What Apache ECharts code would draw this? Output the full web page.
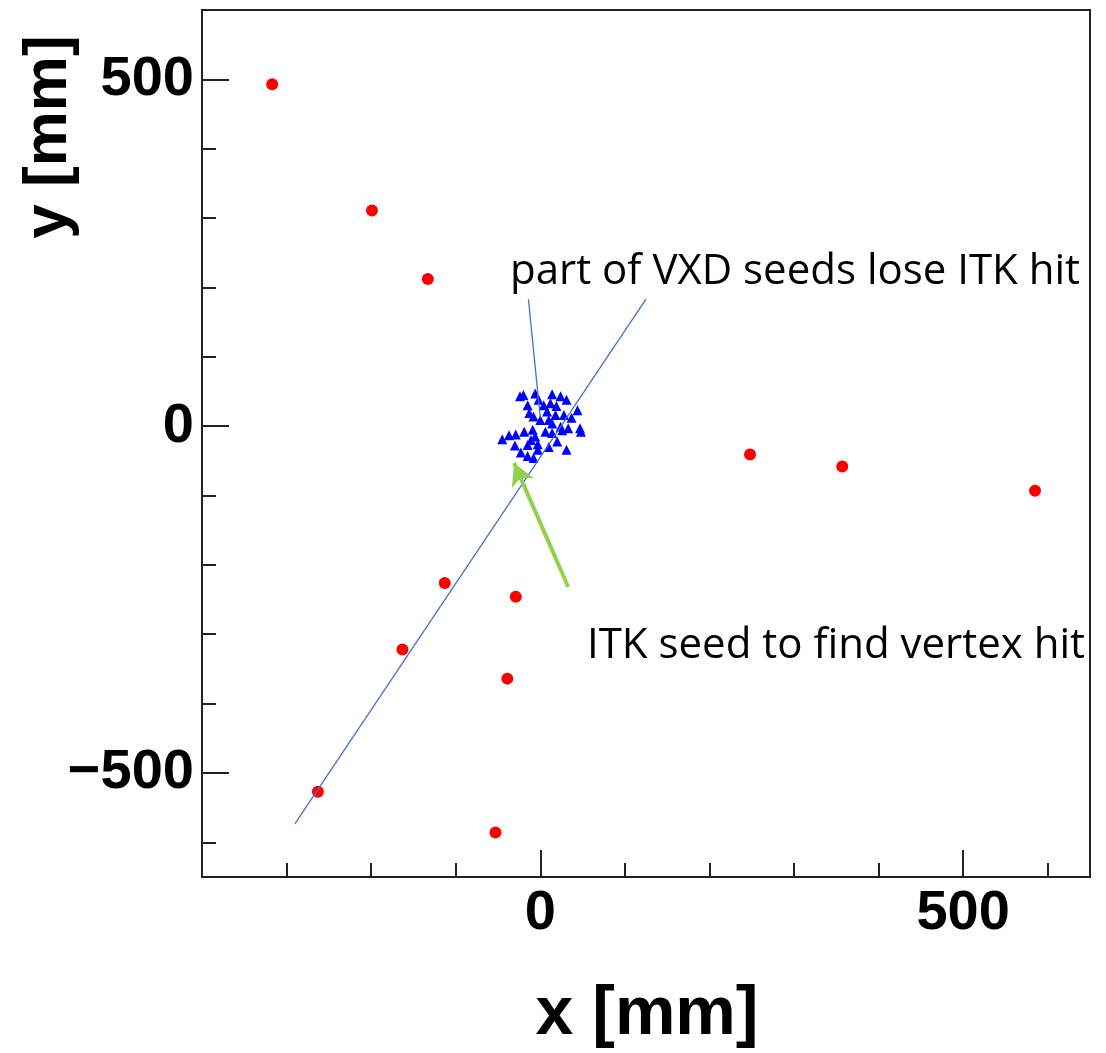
<!DOCTYPE html>
<html><head><meta charset="utf-8">
<script src="https://cdn.jsdelivr.net/npm/echarts@6/dist/echarts.min.js"></script>
<style>html,body{margin:0;padding:0;background:#fff}#c{width:1106px;height:1053px}</style>
</head><body><div id="c"></div>
<script>
// ---- data (mm) ----
const redHits = [[-317,493],[-199,311],[-133,212],[248,-41],[357,-58],[585,-93],
  [-113,-226],[-29,-246],[-163,-322],[-39,-364],[-263,-527],[-53,-586]];
const vxdHits = [[-24,43],[-6,47],[14,46],[24,43],[31,38],[-15,30],[12,33],[44,23],
  [-13,19],[-8,14],[8,21],[18,16],[28,16],[10,9],[14,4],[24,-1],[33,-3],[47,-3],
  [48,-8],[6,-8],[14,-10],[-9,-5],[-19,-8],[-29,-12],[-37,-13],[-45,-19],[-6,-15],
  [-11,-20],[-3,-26],[-15,-27],[20,-22],[31,-34],[-23,-38],[-8,-46],[-15,-43],
  [0,9],[4,30],[-2,38],[19,29],[37,12],[-3,-34],[-30,-28],[-20,45],[26,-6],[10,-30]];
const trackLine = [[-290,-573],[125,183]];
const calloutLine = [[-14,183],[0,12]];
const arrowTail = [33,-232];
const arrowHead = [-31,-53];
const xMinorTicks = [-300,-200,-100,0,100,200,300,400,500,600];
const xMajorTicks = [0,500];
const yMinorTicks = [-600,-500,-400,-300,-200,-100,0,100,200,300,400,500];
const yMajorTicks = [-500,0,500];
const textVXD = 'part of VXD seeds lose ITK hit';
const textITK = 'ITK seed to find vertex hit';
const xTitle = 'x [mm]';
const yTitle = 'y [mm]';

const FONT = 'Liberation Sans, Arial, sans-serif';
const fmt = v => (v < 0 ? '\u2212' + Math.abs(v) : String(v));
const lbl = {fontSize:56, fontWeight:'bold', fontFamily:FONT, color:'#000'};

const chart = echarts.init(document.getElementById('c'), null, {renderer:'canvas'});
chart.setOption({
  backgroundColor:'#fff',
  animation:false,
  grid:{left:202, top:10, right:16, bottom:176, show:true, borderColor:'#222', borderWidth:2, backgroundColor:'transparent'},
  xAxis:[
    {type:'value', min:-400, max:650, position:'bottom',
     axisLine:{show:true, onZero:false, lineStyle:{color:'#222', width:2}},
     axisTick:{show:true, inside:true, length:14, customValues:xMinorTicks, lineStyle:{color:'#222', width:2}},
     axisLabel:Object.assign({customValues:xMajorTicks, margin:9, formatter:fmt}, lbl),
     splitLine:{show:false}},
    {type:'value', min:-400, max:650, position:'bottom', offset:0,
     axisLine:{show:false, onZero:false},
     axisTick:{show:true, inside:true, length:27, customValues:xMajorTicks, lineStyle:{color:'#222', width:2}},
     axisLabel:{show:false}, splitLine:{show:false}}
  ],
  yAxis:[
    {type:'value', min:-650, max:600, position:'left',
     axisLine:{show:true, onZero:false, lineStyle:{color:'#222', width:2}},
     axisTick:{show:true, inside:true, length:14, customValues:yMinorTicks, lineStyle:{color:'#222', width:2}},
     axisLabel:Object.assign({customValues:yMajorTicks, margin:8, formatter:fmt}, lbl),
     splitLine:{show:false}},
    {type:'value', min:-650, max:600, position:'left', offset:0,
     axisLine:{show:false, onZero:false},
     axisTick:{show:true, inside:true, length:27, customValues:yMajorTicks, lineStyle:{color:'#222', width:2}},
     axisLabel:{show:false}, splitLine:{show:false}}
  ],
  series:[
    {type:'scatter', name:'ITK hits', data:redHits, symbol:'circle', symbolSize:12,
     itemStyle:{color:'#ff0000', opacity:1}, z:2},
    {type:'scatter', name:'VXD hits', data:vxdHits, symbol:'triangle', symbolSize:10,
     itemStyle:{color:'#0000ff', opacity:1}, z:3},
    {type:'line', name:'track', data:trackLine, showSymbol:false, symbol:'none',
     lineStyle:{color:'#4472c4', width:1.3}, z:4},
    {type:'line', name:'callout', data:calloutLine, showSymbol:false, symbol:'none',
     lineStyle:{color:'#4472c4', width:1.3}, z:4},
    {type:'line', name:'arrow', data:[], z:5,
     markLine:{silent:true, animation:false, label:{show:false},
       symbol:['none','arrow'], symbolSize:[18,22],
       lineStyle:{color:'#92d050', width:4, type:'solid', opacity:1},
       data:[[{coord:arrowTail},{coord:arrowHead}]]}}
  ],
  graphic:[
    {type:'text', x:510, y:272, style:{text:textVXD, fontSize:42, fontFamily:'Open Sans', fill:'#000', verticalAlign:'middle'}},
    {type:'text', x:587, y:646, style:{text:textITK, fontSize:42, fontFamily:'Open Sans', fill:'#000', verticalAlign:'middle'}},
    {type:'text', x:647, y:1015, style:{text:xTitle, fontSize:68, fontWeight:'bold', fontFamily:FONT, fill:'#000', align:'center', verticalAlign:'middle'}},
    {type:'text', x:49, y:137, rotation:Math.PI/2, style:{text:yTitle, fontSize:62, fontWeight:'bold', fontFamily:FONT, fill:'#000', align:'center', verticalAlign:'middle'}}
  ]
});
</script></body></html>
